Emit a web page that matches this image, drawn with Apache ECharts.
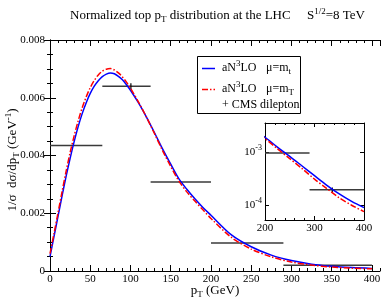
<!DOCTYPE html>
<html>
<head>
<meta charset="utf-8">
<script src="https://cdn.jsdelivr.net/npm/echarts@6/dist/echarts.min.js"></script>
<style>html,body{margin:0;padding:0;background:#fff}#c{width:382px;height:302px}</style>
</head>
<body>
<div id="c"></div>
<script>
// ---- data ----
const ptValues = [0,5,10,15,20,25,30,35,40,45,50,55,60,65,70,75,80,85,90,95,100,110,120,130,140,150,160,170,180,190,200,225,250,275,300,325,350,375,400];
const blueMt = [0.00050,0.00120,0.00190,0.00260,0.00328,0.00390,0.00448,0.00500,0.00545,0.00583,0.00615,0.00640,0.00659,0.00673,0.00682,0.00686,0.00683,0.00674,0.00662,0.00645,0.00626,0.00582,0.00532,0.00478,0.00422,0.00370,0.00320,0.00283,0.00250,0.00220,0.00193,0.00126,0.00084,0.00055,0.00036,0.000237,0.000162,0.000117,0.000089];
const redMT  = [0.00060,0.00130,0.00202,0.00275,0.00345,0.00410,0.00468,0.00520,0.00565,0.00603,0.00635,0.00660,0.00679,0.00692,0.00699,0.00701,0.00696,0.00686,0.00672,0.00654,0.00633,0.00585,0.00532,0.00475,0.00416,0.00362,0.00312,0.00274,0.00242,0.00212,0.00182,0.00117,0.00076,0.00049,0.00031,0.000205,0.000137,0.000099,0.000075];
const binLo  = [0, 65, 125, 200, 290];
const binHi  = [65, 125, 200, 290, 400];
const binVal = [0.00435, 0.00640, 0.00308, 0.00097, 0.000195];
const errX   = [100.5, 336];
const errY   = [0.00640, 0.000195];
const errHalf= [0.00010, 0.00002];
const xTicksMain = {min:0, max:410, major:50, minor:10};
const yTicksMain = {min:0, max:0.008, major:0.002};
const insetX = {min:200, max:400, major:100};
const insetY = {min:5.2e-5, max:3.6e-3};

// ---- build ----
const serif = 'Liberation Serif';
const pair = (xs, ys) => xs.map((x,i)=>[x, ys[i]]);
const blueData = pair(ptValues, blueMt);
const redData = pair(ptValues, redMT);
const binData = binLo.map((l,i)=>[l, binHi[i], binVal[i]]);
const errData = errX.map((x,i)=>[x, errY[i]-errHalf[i], errY[i]+errHalf[i]]);

function binRender(params, api){
  const a = api.coord([api.value(0), api.value(2)]);
  const b = api.coord([api.value(1), api.value(2)]);
  return {type:'line', shape:{x1:a[0],y1:a[1],x2:b[0],y2:b[1]}, style:{stroke:'#3a3a3a', lineWidth:1.5}};
}
function errRender(params, api){
  const a = api.coord([api.value(0), api.value(1)]);
  const b = api.coord([api.value(0), api.value(2)]);
  return {type:'line', shape:{x1:a[0],y1:a[1],x2:b[0],y2:b[1]}, style:{stroke:'#000', lineWidth:1.2}};
}
const rich = {
  sub:{fontFamily:serif, fontSize:9, padding:[7,0,0,0], color:'#000'},
  sup:{fontFamily:serif, fontSize:9, padding:[0,0,9,0], color:'#000'}
};
const lineBlk = {color:'#000', width:1};
const hid = {show:false};

const chart = echarts.init(document.getElementById('c'), null, {renderer:'canvas'});
chart.setOption({
  animation:false,
  backgroundColor:'#fff',
  title:{text:'Normalized top p{sub|T} distribution at the LHC     S{sup|1/2}=8 TeV', left:65, top:2,
    textStyle:{fontFamily:serif, fontSize:13, fontWeight:'normal', color:'#000', rich:rich}},
  grid:[
    {left:50, top:40, right:2, bottom:31, containLabel:false, outerBoundsMode:'none'},
    {left:265, top:123, width:99, height:97, containLabel:false, outerBoundsMode:'none'}
  ],
  xAxis:[
    {gridIndex:0, type:'value', min:xTicksMain.min, max:xTicksMain.max, interval:xTicksMain.major, position:'bottom',
      axisLine:{lineStyle:lineBlk}, axisTick:{inside:true, length:6, lineStyle:lineBlk}, splitLine:hid,
      axisLabel:{fontFamily:serif, fontSize:11, color:'#000', margin:3, showMaxLabel:false,
        formatter:v=> (v<=400 && v%50===0) ? String(v) : ''}},
    {gridIndex:0, type:'value', min:xTicksMain.min, max:xTicksMain.max, interval:xTicksMain.minor, position:'bottom',
      axisLine:hid, axisTick:{inside:true, length:3, lineStyle:lineBlk}, axisLabel:hid, splitLine:hid},
    {gridIndex:0, type:'value', min:xTicksMain.min, max:xTicksMain.max, interval:xTicksMain.major, position:'top',
      axisLine:{lineStyle:lineBlk}, axisTick:{inside:true, length:6, lineStyle:lineBlk}, axisLabel:hid, splitLine:hid},
    {gridIndex:0, type:'value', min:xTicksMain.min, max:xTicksMain.max, interval:xTicksMain.minor, position:'top',
      axisLine:hid, axisTick:{inside:true, length:3, lineStyle:lineBlk}, axisLabel:hid, splitLine:hid},
    {gridIndex:1, type:'value', min:insetX.min, max:insetX.max, interval:insetX.major, position:'bottom',
      axisLine:{lineStyle:lineBlk}, axisTick:{inside:true, length:4, lineStyle:lineBlk},
      minorTick:{show:true, splitNumber:5, length:2, lineStyle:lineBlk}, splitLine:hid,
      axisLabel:{fontFamily:serif, fontSize:11, color:'#000', margin:3}},
    {gridIndex:1, type:'value', min:insetX.min, max:insetX.max, interval:insetX.major, position:'top',
      axisLine:{lineStyle:lineBlk}, axisTick:{inside:true, length:4, lineStyle:lineBlk},
      minorTick:{show:true, splitNumber:5, length:2, lineStyle:lineBlk}, splitLine:hid, axisLabel:hid}
  ],
  yAxis:[
    {gridIndex:0, type:'value', min:yTicksMain.min, max:yTicksMain.max, interval:yTicksMain.major, position:'left',
      axisLine:{show:true, lineStyle:lineBlk}, axisTick:{show:true, inside:true, length:6, lineStyle:lineBlk},
      minorTick:{show:true, splitNumber:4, length:3, lineStyle:lineBlk}, splitLine:hid,
      axisLabel:{fontFamily:serif, fontSize:11, color:'#000', margin:5, formatter:v=> v===0 ? '0' : v.toFixed(3)}},
    {gridIndex:0, type:'value', min:yTicksMain.min, max:yTicksMain.max, interval:yTicksMain.major, position:'right',
      axisLine:{show:true, lineStyle:lineBlk}, axisTick:{show:true, inside:true, length:6, lineStyle:lineBlk},
      minorTick:{show:true, splitNumber:4, length:3, lineStyle:lineBlk}, splitLine:hid, axisLabel:hid},
    {gridIndex:1, type:'log', logBase:10, min:insetY.min, max:insetY.max, splitNumber:2, position:'left',
      axisLine:{show:true, lineStyle:lineBlk}, axisTick:{show:true, inside:true, length:4, lineStyle:lineBlk}, splitLine:hid,
      axisLabel:{fontFamily:serif, fontSize:11, color:'#000', margin:3, showMinLabel:false, showMaxLabel:false,
        formatter:v=>'10{sup|' + Math.round(Math.log10(v)) + '}', rich:{sup:{fontFamily:serif, fontSize:8, padding:[0,0,9,0], color:'#000'}}}},
    {gridIndex:1, type:'log', logBase:10, min:insetY.min, max:insetY.max, splitNumber:2, position:'right',
      axisLine:{show:true, lineStyle:lineBlk}, axisTick:{show:true, inside:true, length:4, lineStyle:lineBlk}, splitLine:hid, axisLabel:hid}
  ],
  series:[
    {type:'custom', xAxisIndex:0, yAxisIndex:0, renderItem:binRender, data:binData, clip:true, z:3},
    {type:'custom', xAxisIndex:0, yAxisIndex:0, renderItem:errRender, data:errData.slice(0,1), clip:true, z:3},
    {type:'line', xAxisIndex:0, yAxisIndex:0, data:blueData, showSymbol:false, smooth:0.3, lineStyle:{color:'#0000ff', width:1.5}, z:4},
    {type:'line', xAxisIndex:0, yAxisIndex:0, data:redData, showSymbol:false, smooth:0.3, lineStyle:{color:'#ff0000', width:1.5, type:[6,2,1.5,2]}, z:5},
    {type:'custom', xAxisIndex:4, yAxisIndex:2, renderItem:binRender, data:binData, clip:true, z:3},
    {type:'custom', xAxisIndex:4, yAxisIndex:2, renderItem:errRender, data:errData.slice(1), clip:true, z:3},
    {type:'line', xAxisIndex:4, yAxisIndex:2, data:blueData, showSymbol:false, smooth:0.3, clip:true, lineStyle:{color:'#0000ff', width:1.5}, z:4},
    {type:'line', xAxisIndex:4, yAxisIndex:2, data:redData, showSymbol:false, smooth:0.3, clip:true, lineStyle:{color:'#ff0000', width:1.5, type:[6,2,1.5,2]}, z:5}
  ],
  graphic:[
    {type:'text', x:215, y:291, style:{text:'p{sub|T} (GeV)', fontFamily:serif, fontSize:13, fill:'#000', align:'center', verticalAlign:'middle', rich:rich}},
    {type:'text', x:13, y:160, rotation:Math.PI/2, style:{text:'1/σ  dσ/dp{sub|T} (GeV{sup|-1})', fontFamily:serif, fontSize:13, fill:'#000', align:'center', verticalAlign:'middle', rich:rich}},
    {type:'rect', shape:{x:197.5, y:56.5, width:103, height:57}, style:{fill:'#fff', stroke:'#000', lineWidth:1}, z:10},
    {type:'line', shape:{x1:202, y1:68.5, x2:215, y2:68.5}, style:{stroke:'#0000ff', lineWidth:1.5}, z:11},
    {type:'line', shape:{x1:202, y1:89.5, x2:215, y2:89.5}, style:{stroke:'#ff0000', lineWidth:1.5, lineDash:[6,2,1.5,2]}, z:11},
    {type:'text', x:222, y:68, style:{text:'aN{sup|3}LO', fontFamily:serif, fontSize:12, fill:'#000', verticalAlign:'middle', rich:rich}, z:11},
    {type:'text', x:266, y:68, style:{text:'μ=m{sub|t}', fontFamily:serif, fontSize:12, fill:'#000', verticalAlign:'middle', rich:rich}, z:11},
    {type:'text', x:222, y:89, style:{text:'aN{sup|3}LO', fontFamily:serif, fontSize:12, fill:'#000', verticalAlign:'middle', rich:rich}, z:11},
    {type:'text', x:266, y:89, style:{text:'μ=m{sub|T}', fontFamily:serif, fontSize:12, fill:'#000', verticalAlign:'middle', rich:rich}, z:11},
    {type:'text', x:222, y:105, style:{text:'+ CMS dilepton', fontFamily:serif, fontSize:12, fill:'#000', verticalAlign:'middle'}, z:11}
  ]
});
</script>
</body>
</html>
